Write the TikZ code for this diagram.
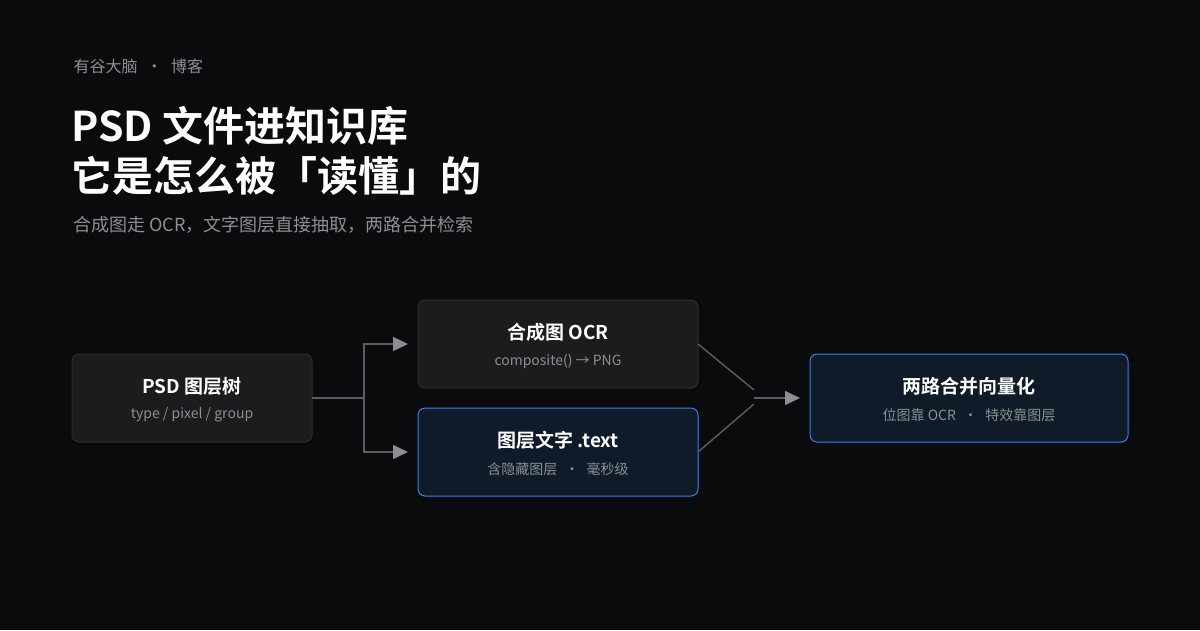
\documentclass[tikz,border=0pt]{standalone}
\usepackage{fontspec}
\setmainfont{Noto Sans CJK SC}[BoldFont={Noto Sans CJK SC Bold}]
\usetikzlibrary{arrows.meta}
\newcommand{\gapdot}{\hspace{0.55em}·\hspace{0.55em}}
\definecolor{bg}{HTML}{0A0B0D}
\definecolor{boxg}{HTML}{1C1C1E}
\definecolor{bordg}{HTML}{2C2C2F}
\definecolor{boxb}{HTML}{0F1B28}
\definecolor{bordb}{HTML}{3B82D6}
\definecolor{muted}{HTML}{8B8E94}
\definecolor{line}{HTML}{5A5D63}
\definecolor{tip}{HTML}{8A8D93}
\begin{document}
\begin{tikzpicture}[x=1pt,y=-1pt,
  gbox/.style={draw=bordg,fill=boxg,rounded corners=7pt,line width=1pt},
  bbox/.style={draw=bordb,fill=boxb,rounded corners=7pt,line width=1pt},
  ttl/.style={text=white,font=\fontsize{19}{23}\selectfont\bfseries},
  sub/.style={text=muted,font=\fontsize{14}{17}\selectfont},
  conn/.style={draw=line,line width=1.4pt},
  arr/.style={conn,-{Triangle[length=15pt,width=14pt,color=tip]}}]
\fill[bg] (0,0) rectangle (1200,630);
\useasboundingbox (0,0) rectangle (1200,630);
\node[anchor=west,text=muted,font=\fontsize{16}{19}\selectfont] (hdr) at (70,66) {有谷大脑\gapdot 博客};
\node[anchor=west,text=white,font=\fontsize{41}{49}\selectfont\bfseries] (t1) at (68,126) {PSD 文件进知识库};
\node[anchor=west,text=white,font=\fontsize{41}{49}\selectfont\bfseries] (t2) at (68,176) {它是怎么被「读懂」的};
\node[anchor=west,text=muted,font=\fontsize{18}{21}\selectfont] (st) at (70,225) {合成图走 OCR，文字图层直接抽取，两路合并检索};

\draw[gbox] (72,354) rectangle (312,442);
\node[ttl] (a1) at (192,386) {PSD 图层树};
\node[sub] (a2) at (192,415) {type / pixel / group};
\coordinate (pr) at (312,398);

\draw[gbox] (418,300) rectangle (698,388);
\node[ttl] (b1) at (558,332) {合成图 OCR};
\node[sub] (b2) at (558,361) {composite() → PNG};

\draw[bbox] (418,408) rectangle (698,496);
\node[ttl] (c1) at (558,440) {图层文字 .text};
\node[sub] (c2) at (558,469) {含隐藏图层\gapdot 毫秒级};

\draw[bbox] (810,354) rectangle (1128,442);
\node[ttl] (d1) at (969,386) {两路合并向量化};
\node[sub] (d2) at (969,415) {位图靠 OCR\gapdot 特效靠图层};

\coordinate (j) at (364,398);
\coordinate (ja) at (364,344); \coordinate (jb) at (364,452);
\coordinate (bi) at (408,344); \coordinate (ci) at (408,452);
\coordinate (bo) at (698,344); \coordinate (co) at (698,452);
\coordinate (m1) at (754,390); \coordinate (m2) at (754,404);
\coordinate (m) at (754,398); \coordinate (di) at (800,398);
\draw[conn] (pr) -- (j);
\draw[arr] (j) -- (ja) -- (bi);
\draw[arr] (j) -- (jb) -- (ci);
\draw[conn] (bo) -- (m1);
\draw[conn] (co) -- (m2);
\draw[arr] (m) -- (di);
\end{tikzpicture}
\end{document}
